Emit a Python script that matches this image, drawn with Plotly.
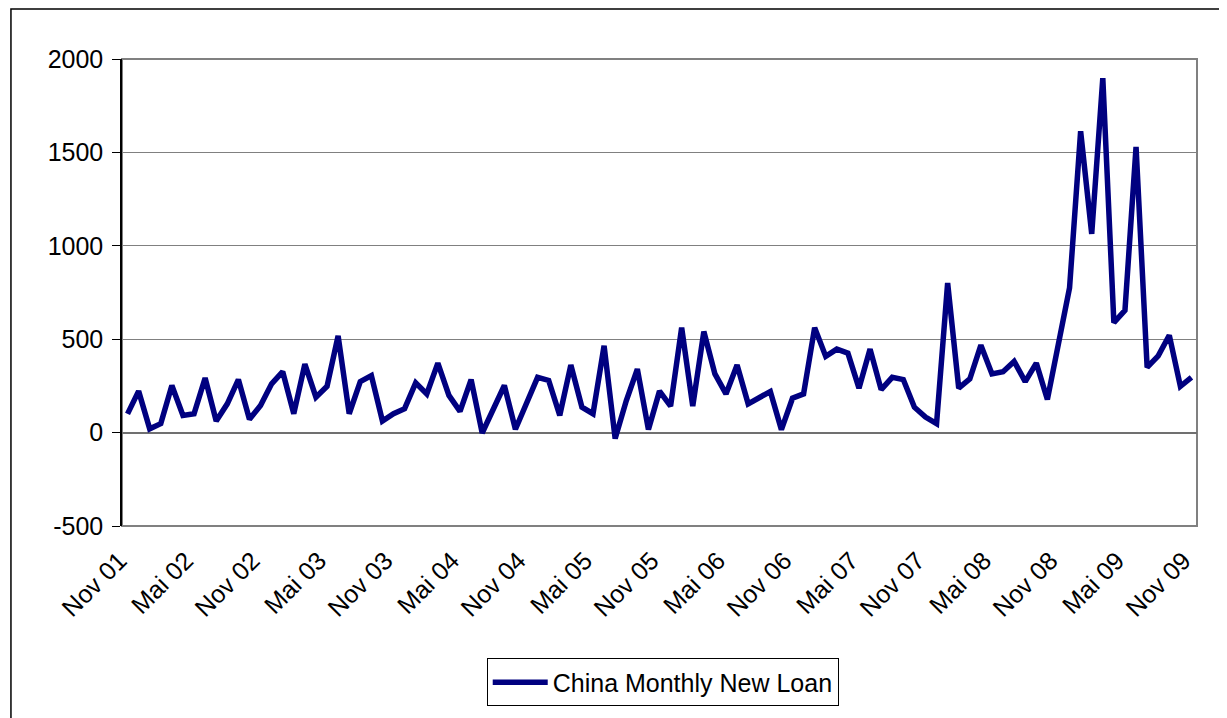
import plotly.graph_objects as go

# meses (alemán) y préstamos nuevos mensuales, Nov 01 - Nov 09
month_names = ["Jan", "Feb", "Mrz", "Apr", "Mai", "Jun",
               "Jul", "Aug", "Sep", "Okt", "Nov", "Dez"]
months = ["Nov 01", "Dez 01"] + [f"{m} {y:02d}" for y in range(2, 9) for m in month_names] \
    + [f"{m} 09" for m in month_names[:11]]

loans = [
    100, 222, 20, 48, 252, 92, 101, 292, 62, 154, 284, 71,
    145, 261, 326, 101, 367, 190, 248, 518, 101, 273, 305, 62,
    101, 128, 266, 207, 372, 199, 114, 284, -2, 124, 252, 18,
    160, 296, 279, 92, 362, 136, 101, 465, -32, 170, 340, 16,
    222, 142, 562, 142, 541, 314, 207, 362, 154, 184, 220, 16,
    184, 207, 562, 408, 447, 425, 238, 447, 230, 296, 284, 136,
    83, 48, 801, 238, 287, 468, 314, 326, 381, 273, 372, 177,
    473, 775, 1613, 1064, 1897, 589, 654, 1529, 349, 411, 521, 248,
    296,
]

tick_labels = ["Nov 01", "Mai 02", "Nov 02", "Mai 03", "Nov 03", "Mai 04",
               "Nov 04", "Mai 05", "Nov 05", "Mai 06", "Nov 06", "Mai 07",
               "Nov 07", "Mai 08", "Nov 08", "Mai 09", "Nov 09"]

y_ticks = [-500, 0, 500, 1000, 1500, 2000]
y_tick_text = ["-500", "0", "500", "1000", "1500", "2000"]

FONT = "Arial, Liberation Sans, sans-serif"
GRID = "#808080"

fig = go.Figure()
fig.add_trace(go.Scatter(
    x=months, y=loans, mode="lines",
    line=dict(color="#000080", width=5.5),
    name="China Monthly New Loan",
))

fig.update_layout(
    width=1219, height=710,
    margin=dict(l=114, r=30, t=51, b=190),
    paper_bgcolor="white", plot_bgcolor="white",
    font=dict(family=FONT, size=25, color="black"),
    showlegend=True,
    legend=dict(
        orientation="h", x=0.503, xanchor="center", y=-0.2836, yanchor="top",
        bordercolor="black", borderwidth=1, bgcolor="white",
        itemwidth=55,
        font=dict(family=FONT, size=25),
    ),
    xaxis=dict(
        type="category", range=[-0.5, len(months) - 0.5],
        tickmode="array", tickvals=tick_labels, ticktext=tick_labels,
        tickangle=-45, ticks="", showgrid=False, showline=False,
        zeroline=False, ticklabelstandoff=14, ticklabelshift=-8,
        tickfont=dict(family=FONT, size=25),
    ),
    # eje secundario solo para dibujar las marcas sobre la línea de cero
    xaxis2=dict(
        overlaying="x", anchor="free", position=0.2,
        range=[-0.5, len(months) - 0.5],
        tickmode="linear", tick0=-0.5, dtick=6,
        ticks="outside", ticklen=7, tickcolor="#404040",
        showticklabels=False, showgrid=False, showline=False, zeroline=False,
    ),
    yaxis=dict(
        range=[-500, 2000], tickmode="array",
        tickvals=y_ticks, ticktext=y_tick_text,
        showgrid=True, gridcolor=GRID, gridwidth=1,
        zeroline=True, zerolinecolor="#707070", zerolinewidth=1.5,
        showline=True, linecolor="black", linewidth=1.5,
        ticks="outside", ticklen=8, tickcolor="black",
        ticklabelstandoff=4,
        tickfont=dict(family=FONT, size=25),
    ),
    shapes=[
        # borde del área de trazado
        dict(type="rect", xref="paper", yref="paper", x0=0, x1=1, y0=0, y1=1,
             line=dict(color=GRID, width=2), layer="below"),
        # marco exterior del gráfico
        dict(type="rect", xref="paper", yref="paper",
             x0=-0.1033, x1=1.2, y0=-0.6, y1=1.107,
             line=dict(color="black", width=1.5), layer="below"),
    ],
)

fig.write_html("out.html")
